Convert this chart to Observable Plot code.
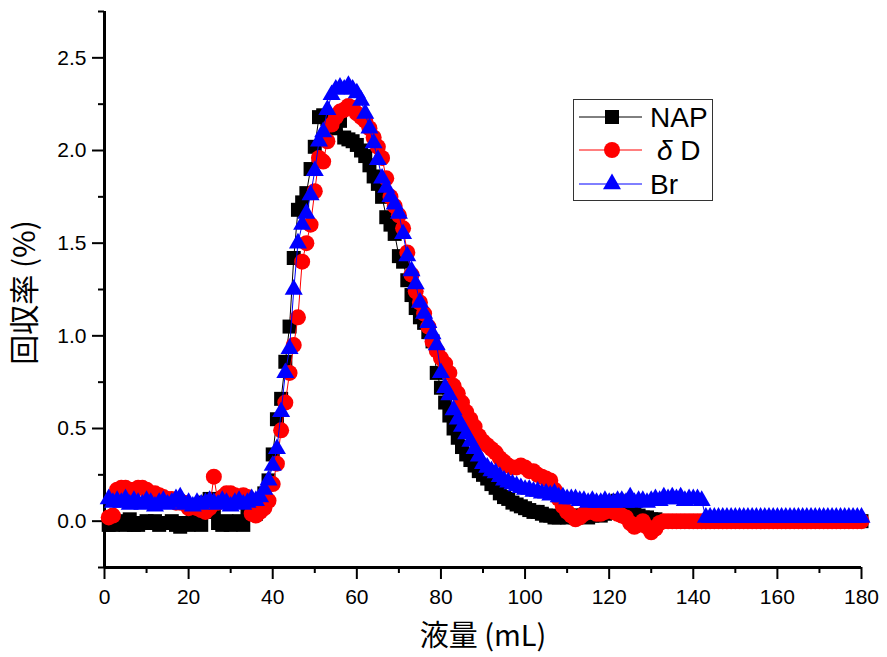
<!DOCTYPE html>
<html><head><meta charset="utf-8">
<script src="https://cdn.jsdelivr.net/npm/d3@7"></script>
<script src="https://cdn.jsdelivr.net/npm/@observablehq/plot@0.6"></script>
<style>body{margin:0;background:#fff} svg{display:block}</style>
</head><body><div id="chart"></div>
<script>
// Volume (mL) of each fraction
const volume = [
  1,2,3,4,5,6,7,8,9,10,11,12,13,14,15,16,17,18,19,20,
  21,22,23,24,25,26,27,28,29,30,31,32,33,34,35,36,37,38,39,40,
  41,42,43,44,45,46,47,48,49,50,51,52,53,54,55,56,57,58,59,60,
  61,62,63,64,65,66,67,68,69,70,71,72,73,74,75,76,77,78,79,80,
  81,82,83,84,85,86,87,88,89,90,91,92,93,94,95,96,97,98,99,100,
  101,102,103,104,105,106,107,108,109,110,111,112,113,114,115,116,117,118,119,120,
  121,122,123,124,125,126,127,128,129,130,131,132,133,134,135,136,137,138,139,140,
  141,142,143,144,145,146,147,148,149,150,151,152,153,154,155,156,157,158,159,160,
  161,162,163,164,165,166,167,168,169,170,171,172,173,174,175,176,177,178,179,180
];
// NAP recovery (%)
const nap = [
  -0.02,-0.02,0.00,-0.01,-0.02,0.01,-0.02,-0.02,-0.01,0.00,
  -0.01,0.00,-0.02,-0.01,-0.01,0.00,-0.02,-0.03,-0.01,-0.02,
  0.00,-0.01,-0.02,0.10,0.12,0.05,-0.01,-0.02,0.00,-0.02,
  -0.01,0.00,-0.02,0.05,0.07,0.04,0.08,0.15,0.22,0.36,
  0.55,0.66,0.86,1.05,1.42,1.68,1.72,1.77,1.90,2.02,
  2.18,2.19,2.17,2.15,2.12,2.16,2.07,2.06,2.05,2.03,
  2.00,1.97,1.92,1.86,1.82,1.75,1.64,1.60,1.55,1.43,
  1.40,1.30,1.22,1.15,1.10,1.07,1.02,0.97,0.80,0.72,
  0.64,0.57,0.50,0.45,0.40,0.36,0.33,0.30,0.27,0.25,
  0.23,0.20,0.18,0.15,0.13,0.12,0.10,0.09,0.08,0.07,
  0.06,0.05,0.05,0.04,0.03,0.03,0.02,0.02,0.03,0.02,
  0.03,0.02,0.03,0.03,0.02,0.03,0.04,0.03,0.04,0.08,
  0.10,0.11,0.10,0.10,0.09,0.05,0.03,0.02,0.02,0.01,
  0.01,0.00,0.00,0.00,0.00,0.00,0.00,0.00,0.00,0.00,
  0.00,0.00,0.00,0.00,0.00,0.00,0.00,0.00,0.00,0.00,
  0.00,0.00,0.00,0.00,0.00,0.00,0.00,0.00,0.00,0.00,
  0.00,0.00,0.00,0.00,0.00,0.00,0.00,0.00,0.00,0.00,
  0.00,0.00,0.00,0.00,0.00,0.00,0.00,0.00,0.00,0.00
];
// δD recovery (%)
const deltaD = [
  0.02,0.03,0.17,0.18,0.18,0.17,0.17,0.18,0.18,0.17,
  0.15,0.15,0.14,0.13,0.12,0.12,0.10,0.10,0.10,0.07,
  0.08,0.07,0.06,0.05,0.07,0.24,0.10,0.13,0.15,0.15,
  0.14,0.13,0.14,0.13,0.04,0.03,0.05,0.07,0.11,0.20,
  0.31,0.49,0.64,0.80,0.95,1.10,1.40,1.50,1.60,1.78,
  1.96,1.94,2.05,2.14,2.18,2.21,2.22,2.24,2.23,2.20,
  2.18,2.16,2.12,2.07,2.02,1.96,1.85,1.75,1.70,1.65,
  1.58,1.45,1.33,1.24,1.18,1.12,1.05,0.97,0.92,0.88,
  0.85,0.80,0.73,0.69,0.64,0.59,0.55,0.51,0.46,0.43,
  0.41,0.39,0.37,0.34,0.32,0.30,0.29,0.29,0.30,0.29,
  0.27,0.27,0.25,0.24,0.23,0.22,0.17,0.12,0.08,0.05,
  0.03,0.01,0.02,0.04,0.05,0.05,0.04,0.04,0.05,0.06,
  0.05,0.04,0.03,0.02,-0.01,-0.03,-0.02,0.00,-0.03,-0.06,
  -0.04,-0.01,0.00,0.00,0.00,0.00,0.00,0.00,0.00,0.00,
  0.00,0.00,0.00,0.00,0.00,0.00,0.00,0.00,0.00,0.00,
  0.00,0.00,0.00,0.00,0.00,0.00,0.00,0.00,0.00,0.00,
  0.00,0.00,0.00,0.00,0.00,0.00,0.00,0.00,0.00,0.00,
  0.00,0.00,0.00,0.00,0.00,0.00,0.00,0.00,0.00,0.00
];
// Br recovery (%)
const br = [
  0.12,0.10,0.11,0.10,0.12,0.09,0.11,0.10,0.09,0.11,
  0.10,0.08,0.10,0.11,0.09,0.10,0.12,0.13,0.09,0.10,
  0.08,0.10,0.09,0.10,0.11,0.10,0.09,0.11,0.10,0.08,
  0.10,0.11,0.09,0.10,0.12,0.11,0.13,0.17,0.22,0.30,
  0.39,0.59,0.80,0.93,1.25,1.50,1.60,1.66,1.76,1.89,
  2.05,2.10,2.22,2.30,2.33,2.34,2.33,2.35,2.33,2.31,
  2.27,2.20,2.12,2.04,1.95,1.85,1.80,1.75,1.71,1.66,
  1.55,1.43,1.35,1.28,1.18,1.12,1.07,1.01,0.95,0.80,
  0.72,0.68,0.60,0.55,0.51,0.47,0.43,0.39,0.35,0.31,
  0.29,0.27,0.26,0.24,0.22,0.21,0.20,0.19,0.18,0.17,
  0.17,0.16,0.16,0.15,0.15,0.14,0.15,0.13,0.13,0.12,
  0.12,0.12,0.11,0.11,0.10,0.11,0.10,0.10,0.11,0.10,
  0.10,0.11,0.11,0.10,0.13,0.10,0.11,0.11,0.10,0.11,
  0.12,0.11,0.13,0.12,0.13,0.12,0.13,0.11,0.12,0.12,
  0.12,0.11,0.02,0.02,0.02,0.02,0.02,0.02,0.02,0.02,
  0.02,0.02,0.02,0.02,0.02,0.02,0.02,0.02,0.02,0.02,
  0.02,0.02,0.02,0.02,0.02,0.02,0.02,0.02,0.02,0.02,
  0.02,0.02,0.02,0.02,0.02,0.02,0.02,0.02,0.02,0.02
];
const seriesNames = ["NAP", "δ D", "Br"];
const xMajor = [0, 20, 40, 60, 80, 100, 120, 140, 160, 180];
const xMinor = [10, 30, 50, 70, 90, 110, 130, 150, 170];
const yMajor = [0, 0.5, 1.0, 1.5, 2.0, 2.5];
const yMinor = [-0.25, 0.25, 0.75, 1.25, 1.75, 2.25, 2.75];
const xTitle = "液量 (mL)";
const yTitle = "回収率 (%)";

const rows = (vals) => volume.map((v, i) => ({v, y: vals[i]}));
const napRows = rows(nap), dRows = rows(deltaD), brRows = rows(br);
const font = "'Liberation Sans', Arial, sans-serif";
const cjk = "'Noto Sans CJK JP', 'Noto Sans CJK SC', sans-serif";

const chart = Plot.plot({
  width: 887, height: 657,
  marginLeft: 104, marginRight: 26, marginTop: 11, marginBottom: 90,
  style: {fontFamily: font, background: "white", color: "black"},
  x: {domain: [0, 180], label: null},
  y: {domain: [-0.25, 2.75], label: null},
  marks: [
    Plot.axisX(xMinor, {tickSize: 6, strokeWidth: 2, fill: "none", label: null}),
    Plot.axisX(xMajor, {tickSize: 12, tickPadding: 10, strokeWidth: 2, fontSize: 21, label: null}),
    Plot.axisY(yMinor, {tickSize: 6, strokeWidth: 2, fill: "none", label: null}),
    Plot.axisY(yMajor, {tickSize: 12, tickPadding: 6, strokeWidth: 2, fontSize: 21, tickFormat: d3.format(".1f"), label: null}),
    Plot.ruleX([0], {strokeWidth: 3}),
    Plot.ruleY([-0.25], {strokeWidth: 3}),
    Plot.line(napRows, {x: "v", y: "y", stroke: "black", strokeWidth: 1}),
    Plot.dot(napRows, {x: "v", y: "y", symbol: "square", r: 7.9, fill: "black"}),
    Plot.line(dRows, {x: "v", y: "y", stroke: "red", strokeWidth: 1}),
    Plot.dot(dRows, {x: "v", y: "y", symbol: "circle", r: 8, fill: "red"}),
    Plot.line(brRows, {x: "v", y: "y", stroke: "blue", strokeWidth: 1}),
    Plot.dot(brRows, {x: "v", y: "y", symbol: "triangle", r: 6.7, fill: "blue"}),
    Plot.text([xTitle], {frameAnchor: "bottom", textAnchor: "middle", lineAnchor: "middle", dy: 69, fontSize: 29, fontFamily: cjk, fill: "black"}),
    Plot.text([yTitle], {frameAnchor: "left", textAnchor: "middle", lineAnchor: "middle", rotate: -90, dx: -79, dy: 3, fontSize: 30, fontFamily: cjk, fill: "black"})
  ]
});
document.getElementById("chart").appendChild(chart);

// Legend box (Origin style)
const svg = d3.select(chart);
const lg = svg.append("g").attr("text-anchor", "start");
lg.append("rect").attr("x", 573.5).attr("y", 99.5).attr("width", 139).attr("height", 101)
  .attr("fill", "white").attr("stroke", "#333").attr("stroke-width", 1);
const items = [
  {name: seriesNames[0], color: "black", type: d3.symbolSquare, size: 196, tx: 650},
  {name: seriesNames[1], color: "red", type: d3.symbolCircle, size: Math.PI * 64, tx: 657},
  {name: seriesNames[2], color: "blue", type: d3.symbolTriangle, size: 140, tx: 650}
];
const rowY = [117, 150, 184];
items.forEach((it, i) => {
  const y = rowY[i];
  lg.append("line").attr("x1", 579).attr("x2", 642).attr("y1", y).attr("y2", y)
    .attr("stroke", it.color).attr("stroke-width", 1);
  lg.append("path").attr("d", d3.symbol().type(it.type).size(it.size)())
    .attr("transform", `translate(612,${y})`).attr("fill", it.color);
  const t = lg.append("text").attr("x", it.tx).attr("y", y + 10)
    .attr("text-anchor", "start")
    .attr("font-size", 28).attr("font-family", font).attr("fill", "black");
  if (it.name.startsWith("δ")) {
    t.append("tspan").attr("font-style", "italic").text("δ");
    t.append("tspan").text(it.name.slice(1));
  } else {
    t.text(it.name);
  }
});
</script>
</body></html>
